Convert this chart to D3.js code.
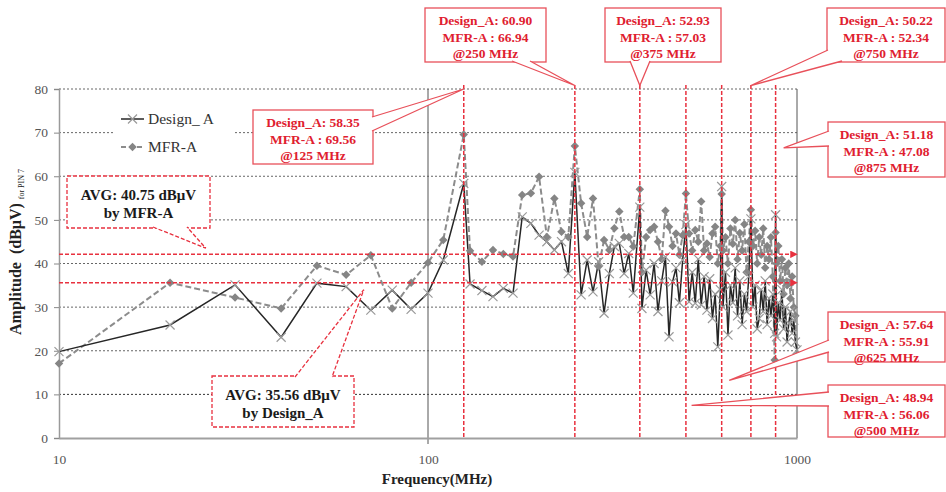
<!DOCTYPE html>
<html>
<head>
<meta charset="utf-8">
<script src="https://cdn.jsdelivr.net/npm/d3@7"></script>
<style>
  body { margin: 0; background: #fff }
  text { font-family: "Liberation Serif", "Times New Roman", serif }
</style>
</head>
<body>
<svg width="946" height="492"></svg>
<script>
// frequencies (MHz) of the measured points
var freqs = [10, 20, 30, 40, 50, 60, 70, 80, 90, 100, 110, 125,
  130, 140, 150, 160, 170, 180, 190, 200, 210, 220, 230, 240, 250,
  260, 270, 280, 290, 300, 310, 320, 330, 340, 350, 360, 375,
  380, 390, 400, 410, 420, 430, 440, 450, 460, 470, 480, 490, 500,
  510, 520, 530, 540, 550, 560, 570, 580, 590, 600, 610, 620, 625,
  630, 640, 650, 660, 670, 680, 690, 700, 710, 720, 730, 740, 750,
  760, 770, 780, 790, 800, 810, 820, 830, 840, 850, 860, 870, 875,
  880, 890, 900, 910, 920, 930, 940, 950, 960, 970, 980, 990, 1000]

var designA = [19.8, 25.9, 35.1, 23.1, 35.5, 34.7, 29.3, 33.9, 29.5, 33.2, 40.8, 58.35,
  35.3, 33.8, 32.4, 34.3, 33.2, 50.7, 49.2, 46.5, 45.0, 43.1, 45.0, 37.7, 60.90,
  32.8, 40.8, 33.5, 40.4, 28.6, 37.7, 43.9, 44.6, 37.7, 42.3, 33.2, 52.93,
  29.7, 38.5, 32.8, 40.0, 29.0, 36.0, 41.5, 23.2, 35.8, 39.0, 31.0, 40.8, 48.94,
  31.2, 38.0, 30.9, 41.0, 30.5, 37.0, 29.3, 36.5, 27.4, 33.0, 20.9, 34.0, 57.64,
  30.0, 38.0, 23.6, 35.0, 31.0, 39.0, 28.0, 36.0, 26.0, 33.0, 29.0, 37.0, 50.22,
  30.0, 35.0, 25.0, 27.4, 34.0, 29.0, 36.0, 26.0, 32.0, 28.0, 33.0, 24.0, 51.18,
  23.2, 31.0, 27.0, 34.0, 25.0, 30.0, 22.0, 26.3, 29.0, 24.0, 27.0, 22.0, 20.2]

var mfrA = [17.1, 35.6, 32.2, 29.7, 39.5, 37.4, 41.9, 29.7, 35.6, 40.2, 45.4, 69.56,
  42.9, 40.4, 43.1, 42.2, 41.6, 55.7, 56.1, 59.9, 46.1, 54.9, 47.3, 46.1, 66.94,
  53.8, 46.1, 54.9, 39.3, 45.4, 43.1, 48.1, 51.9, 46.1, 46.1, 43.9, 57.03,
  38.0, 46.1, 47.7, 48.4, 45.0, 41.0, 52.1, 48.4, 44.0, 46.9, 42.0, 46.5, 56.06,
  46.9, 43.0, 47.7, 45.0, 54.2, 43.0, 44.6, 41.5, 46.9, 48.4, 40.0, 44.0, 55.91,
  43.0, 46.0, 40.0, 48.0, 44.5, 50.0, 41.0, 47.0, 43.0, 49.0, 38.0, 45.0, 52.34,
  44.0, 47.5, 40.0, 46.0, 42.0, 48.0, 39.0, 44.0, 41.0, 46.0, 37.0, 17.9, 47.08,
  40.0, 44.0, 36.0, 41.0, 33.0, 39.0, 35.0, 40.0, 32.0, 37.0, 30.0, 28.0, 19.0]

var seriesNames = ['Design_ A', 'MFR-A']

// marked harmonics and their read-outs
var peakFreqs = [125, 250, 375, 500, 625, 750, 875]
var peakDesign = ['58.35', '60.90', '52.93', '48.94', '57.64', '50.22', '51.18']
var peakMFR = ['69.56', '66.94', '57.03', '56.06', '55.91', '52.34', '47.08']

// average levels (line level as drawn, label text)
var avgLevels = [42.1, 35.6]
var avgLabels = [['AVG: 40.75 dB\u03bcV', 'by MFR-A'], ['AVG: 35.56 dB\u03bcV', 'by Design_A']]

var yTicks = [0, 10, 20, 30, 40, 50, 60, 70, 80]
var xTicks = [10, 100, 1000]

var red = '#e8313f', redText = '#e0202f'

var svg = d3.select('svg')
var x = d3.scaleLog().domain([10, 1000]).range([59, 797])
var y = d3.scaleLinear().domain([0, 80]).range([438, 89])

var defs = svg.append('defs')
defs.append('marker').attr('id', 'arr')
  .attr('viewBox', '0 0 10 10').attr('refX', 9).attr('refY', 5)
  .attr('markerWidth', 5).attr('markerHeight', 5).attr('orient', 'auto')
  .append('path').attr('d', 'M0,0L10,5L0,10Z').attr('fill', red)

// grid
svg.append('g').selectAll('line').data(yTicks.slice(1)).enter().append('line')
  .attr('x1', x(10)).attr('x2', x(1000))
  .attr('y1', function (d) { return y(d) }).attr('y2', function (d) { return y(d) })
  .attr('stroke', function (d) { return d == 10 ? '#333' : '#666' })
  .attr('stroke-width', 1).attr('stroke-dasharray', '2,2')

svg.append('g').selectAll('line').data([100, 1000]).enter().append('line')
  .attr('x1', function (d) { return x(d) }).attr('x2', function (d) { return x(d) })
  .attr('y1', y(80)).attr('y2', function (d) { return d == 100 ? y(0) + 6 : y(0) })
  .attr('stroke', '#555').attr('stroke-width', 1)

// axes
var ya = svg.append('g').attr('transform', 'translate(' + x(10) + ',0)')
  .call(d3.axisLeft(y).tickValues(yTicks).tickSize(5).tickPadding(6))
ya.select('.domain').attr('stroke', '#9a9a9a').attr('stroke-width', 1.5)
ya.selectAll('.tick line').attr('stroke', '#888')
ya.selectAll('.tick text').attr('fill', '#555').style('font-size', '13.5px')
  .style('font-family', '"Liberation Serif", serif')

var xa = svg.append('g').attr('transform', 'translate(0,' + y(0) + ')')
  .call(d3.axisBottom(x).tickValues(xTicks).tickFormat(d3.format('d')).tickSize(0).tickPadding(16))
xa.select('.domain').attr('stroke', '#a0a0a0').attr('stroke-width', 2)
xa.selectAll('.tick text').attr('fill', '#555').style('font-size', '13.5px')
  .style('font-family', '"Liberation Serif", serif')

svg.append('text').attr('x', 437).attr('y', 484).attr('text-anchor', 'middle')
  .attr('font-weight', 'bold').attr('font-size', 15).attr('fill', '#222')
  .text('Frequency(MHz)')

var yt = svg.append('text').attr('transform', 'translate(21,252) rotate(-90)')
  .attr('text-anchor', 'middle').attr('fill', '#222')
yt.append('tspan').attr('font-weight', 'bold').attr('font-size', 16).text('Amplitude\u00a0 (dB\u03bcV)')
yt.append('tspan').attr('font-size', 8).attr('dx', 4).attr('dy', 3).text('for PIN 7')

// series
var pts = freqs.map(function (f, i) { return { f: f, a: designA[i], b: mfrA[i] } })
var lineA = d3.line().x(function (d) { return x(d.f) }).y(function (d) { return y(d.a) })
var lineB = d3.line().x(function (d) { return x(d.f) }).y(function (d) { return y(d.b) })

svg.append('path').datum(pts).attr('d', lineB).attr('fill', 'none')
  .attr('stroke', '#8c8c8c').attr('stroke-width', 2).attr('stroke-dasharray', '6,3')
svg.append('path').datum(pts).attr('d', lineA).attr('fill', 'none')
  .attr('stroke', '#262626').attr('stroke-width', 1.5)

var diamond = d3.symbol().type(d3.symbolSquare).size(36)
svg.append('g').selectAll('path').data(pts).enter().append('path')
  .attr('d', diamond)
  .attr('transform', function (d) { return 'translate(' + x(d.f) + ',' + y(d.b) + ') rotate(45)' })
  .attr('fill', '#858585')

var cross = d3.symbol().type(d3.symbolX || d3.symbolTimes).size(55)
svg.append('g').selectAll('path').data(pts).enter().append('path')
  .attr('d', cross)
  .attr('transform', function (d) { return 'translate(' + x(d.f) + ',' + y(d.a) + ')' })
  .attr('fill', 'none').attr('stroke', '#9a9a9a').attr('stroke-width', 1.2)

// red reference lines
svg.append('g').selectAll('line').data(peakFreqs).enter().append('line')
  .attr('x1', function (d) { return x(d) }).attr('x2', function (d) { return x(d) })
  .attr('y1', y(80) - 4).attr('y2', y(0))
  .attr('stroke', red).attr('stroke-width', 1.5).attr('stroke-dasharray', '4,2')

svg.append('g').selectAll('line').data(avgLevels).enter().append('line')
  .attr('x1', x(10)).attr('x2', x(1000))
  .attr('y1', function (d) { return y(d) }).attr('y2', function (d) { return y(d) })
  .attr('stroke', red).attr('stroke-width', 1.5).attr('stroke-dasharray', '4,2')
  .attr('marker-end', 'url(#arr)')

// legend
var lg = svg.append('g')
lg.append('rect').attr('x', 115).attr('y', 104).attr('width', 120).attr('height', 56).attr('fill', '#fff')
lg.append('line').attr('x1', 121).attr('x2', 144).attr('y1', 119).attr('y2', 119)
  .attr('stroke', '#262626').attr('stroke-width', 1.5)
lg.append('path').attr('d', cross).attr('transform', 'translate(132.5,119)')
  .attr('fill', 'none').attr('stroke', '#9a9a9a').attr('stroke-width', 1.2)
lg.append('line').attr('x1', 121).attr('x2', 144).attr('y1', 147).attr('y2', 147)
  .attr('stroke', '#8c8c8c').attr('stroke-width', 2).attr('stroke-dasharray', '5,3')
lg.append('path').attr('d', diamond).attr('transform', 'translate(132.5,147) rotate(45)').attr('fill', '#858585')
lg.selectAll('text').data(seriesNames).enter().append('text')
  .attr('x', 148).attr('y', function (d, i) { return 124 + 28 * i })
  .attr('font-size', 15.5).attr('fill', '#333').text(function (d) { return d })

// callouts
function callout(box, base, tip, lines, opt) {
  var g = svg.append('g')
  var tx = x(tip[0]), ty = y(tip[1])
  var dash = opt.dashed ? '4,2' : null
  g.append('rect').attr('x', box[0]).attr('y', box[1]).attr('width', box[2]).attr('height', box[3])
    .attr('fill', '#fff').attr('stroke', opt.stroke).attr('stroke-width', 1.3).attr('stroke-dasharray', dash)
  g.append('path')
    .attr('d', 'M' + base[0] + 'L' + tx + ',' + ty + 'L' + base[1])
    .attr('fill', '#fff').attr('stroke', opt.stroke).attr('stroke-width', 1.3).attr('stroke-dasharray', dash)
  g.selectAll('text').data(lines).enter().append('text')
    .attr('x', box[0] + box[2] / 2)
    .attr('y', function (d, i) { return box[1] + opt.top + i * opt.gap })
    .attr('text-anchor', 'middle').attr('font-weight', 'bold')
    .attr('font-size', opt.size).attr('fill', opt.fill).text(function (d) { return d })
}

var boxes = [
  { box: [253, 110, 120, 54], base: [[372, 117], [372, 131]], tip: [125, 80] },
  { box: [425, 8, 121, 54], base: [[512, 61], [530, 61]], tip: [250, 80.8] },
  { box: [605, 8, 116, 54], base: [[630, 61], [650, 61]], tip: [375, 80.8] },
  { box: [622, 385, 117, 52], base: [[829, 392], [829, 406]], tip: [518, 7.5] },
  { box: [828, 312, 117, 50], base: [[829, 340], [829, 352]], tip: [655, 13.2] },
  { box: [827, 8, 118, 54], base: [[828, 50], [842, 61]], tip: [750, 80.8] },
  { box: [828, 122, 117, 55], base: [[829, 131], [829, 146]], tip: [920, 66.5] }
]
boxes[3].box[0] = 828
peakFreqs.forEach(function (f, i) {
  var b = boxes[i]
  callout(b.box, b.base, b.tip,
    ['Design_A: ' + peakDesign[i], 'MFR-A : ' + peakMFR[i], '@' + f + ' MHz'],
    { stroke: '#e8505a', fill: redText, size: 13.5, top: 17, gap: 16.5 })
})

callout([67, 176, 143, 52], [[153, 227], [187, 227]], [25, 43.5], avgLabels[0],
  { stroke: red, fill: '#1a1a1a', size: 15, top: 24, gap: 18, dashed: true })
callout([212, 376, 142, 51], [[295, 377], [332, 377]], [67, 34], avgLabels[1],
  { stroke: red, fill: '#1a1a1a', size: 15, top: 24, gap: 18, dashed: true })
</script>
</body>
</html>
